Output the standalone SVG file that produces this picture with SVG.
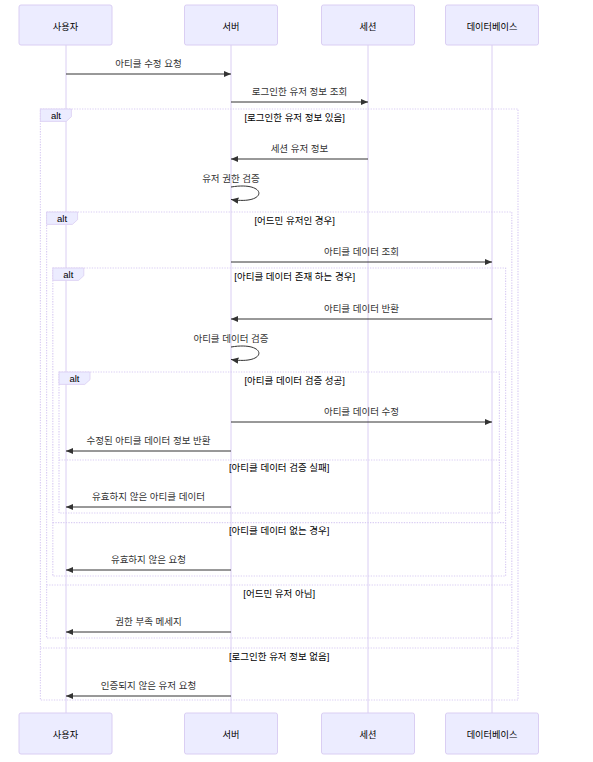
<svg xmlns="http://www.w3.org/2000/svg" width="593" height="762" viewBox="0 0 593 762">
<style>
text{font-family:"Liberation Sans","Noto Sans CJK KR",sans-serif;font-size:9.5px}
.actor{fill:#ECECFF;stroke:#DACEF3;stroke-width:1}
.atext{fill:#000;text-anchor:middle;font-size:9.2px}
.life{stroke:#DACEF3;stroke-width:1}
.msg{stroke:#333;stroke-width:1;fill:none}
.mtext{fill:#333;text-anchor:middle}
.loop{stroke:#DACEF3;stroke-width:1.2;stroke-dasharray:1.3,1.3;fill:none}
.lbox{fill:#ECECFF;stroke:#DACEF3;stroke-width:0.8}
.ltext{fill:#000;text-anchor:middle}
</style>
<defs>
<marker id="ah" markerUnits="userSpaceOnUse" markerWidth="8" markerHeight="7" refX="7.4" refY="3.1" orient="auto">
<path d="M0,0 L7.4,3.1 L0,6.2 z" fill="#333"/>
</marker>
</defs>
<g id="lifelines">
<line class="life" x1="66" y1="45" x2="66" y2="713"/>
<line class="life" x1="231" y1="45" x2="231" y2="713"/>
<line class="life" x1="368" y1="45" x2="368" y2="713"/>
<line class="life" x1="492" y1="45" x2="492" y2="713"/>
</g>
<g id="frames">
<rect class="loop" x="40.4" y="109" width="477.6" height="591"/>
<line class="loop" x1="40.4" y1="648" x2="518" y2="648"/>
<polygon class="lbox" points="40.4,109 71.4,109 71.4,116.7 66.2,121.4 40.4,121.4"/>
<text class="ltext" x="55.9" y="119">alt</text>
<text class="ltext" x="294.7" y="120.5">[로그인한 유저 정보 있음]</text>
<text class="ltext" x="279.2" y="659.5">[로그인한 유저 정보 없음]</text>

<rect class="loop" x="46.6" y="212" width="465.2" height="426"/>
<line class="loop" x1="46.6" y1="585" x2="511.8" y2="585"/>
<polygon class="lbox" points="46.6,212 77.6,212 77.6,219.7 72.4,224.4 46.6,224.4"/>
<text class="ltext" x="62.1" y="222">alt</text>
<text class="ltext" x="294.7" y="223.5">[어드민 유저인 경우]</text>
<text class="ltext" x="279.2" y="597">[어드민 유저 아님]</text>

<rect class="loop" x="52.8" y="268" width="452.8" height="308"/>
<line class="loop" x1="52.8" y1="522.7" x2="505.6" y2="522.7"/>
<polygon class="lbox" points="52.8,268 83.8,268 83.8,275.7 78.6,280.4 52.8,280.4"/>
<text class="ltext" x="68.3" y="278">alt</text>
<text class="ltext" x="294.7" y="279.5">[아티클 데이터 존재 하는 경우]</text>
<text class="ltext" x="279.2" y="534">[아티클 데이터 없는 경우]</text>

<rect class="loop" x="59" y="372" width="440.4" height="141"/>
<line class="loop" x1="59" y1="460" x2="499.4" y2="460"/>
<polygon class="lbox" points="59,372 90,372 90,379.7 84.8,384.4 59,384.4"/>
<text class="ltext" x="74.5" y="382">alt</text>
<text class="ltext" x="294.7" y="383.5">[아티클 데이터 검증 성공]</text>
<text class="ltext" x="279.2" y="471">[아티클 데이터 검증 실패]</text>
</g>
<g id="connectors">
<line class="msg" x1="66" y1="74" x2="231" y2="74" marker-end="url(#ah)"/>
<text class="mtext" x="148.5" y="67">아티클 수정 요청</text>
<line class="msg" x1="231" y1="102" x2="368" y2="102" marker-end="url(#ah)"/>
<text class="mtext" x="299.5" y="95">로그인한 유저 정보 조회</text>
<line class="msg" x1="368" y1="159" x2="231" y2="159" marker-end="url(#ah)"/>
<text class="mtext" x="299.5" y="152">세션 유저 정보</text>
<path class="msg" d="M231,187 C268.2,180.8 268.2,205.6 231,199.4" marker-end="url(#ah)"/>
<text class="mtext" x="231" y="181.5">유저 권한 검증</text>
<line class="msg" x1="231" y1="262" x2="492" y2="262" marker-end="url(#ah)"/>
<text class="mtext" x="361.5" y="255">아티클 데이터 조회</text>
<line class="msg" x1="492" y1="319" x2="231" y2="319" marker-end="url(#ah)"/>
<text class="mtext" x="361.5" y="312">아티클 데이터 반환</text>
<path class="msg" d="M231,347 C268.2,340.8 268.2,365.6 231,359.4" marker-end="url(#ah)"/>
<text class="mtext" x="231" y="341.5">아티클 데이터 검증</text>
<line class="msg" x1="231" y1="422" x2="492" y2="422" marker-end="url(#ah)"/>
<text class="mtext" x="361.5" y="415">아티클 데이터 수정</text>
<line class="msg" x1="231" y1="451" x2="66" y2="451" marker-end="url(#ah)"/>
<text class="mtext" x="148.5" y="444">수정된 아티클 데이터 정보 반환</text>
<line class="msg" x1="231" y1="507" x2="66" y2="507" marker-end="url(#ah)"/>
<text class="mtext" x="148.5" y="500">유효하지 않은 아티클 데이터</text>
<line class="msg" x1="231" y1="570" x2="66" y2="570" marker-end="url(#ah)"/>
<text class="mtext" x="148.5" y="563">유효하지 않은 요청</text>
<line class="msg" x1="231" y1="632" x2="66" y2="632" marker-end="url(#ah)"/>
<text class="mtext" x="148.5" y="625">권한 부족 메세지</text>
<line class="msg" x1="231" y1="696" x2="66" y2="696" marker-end="url(#ah)"/>
<text class="mtext" x="148.5" y="689">인증되지 않은 유저 요청</text>
</g>
<g id="actor-user">
<rect class="actor" x="19" y="5" width="93" height="40" rx="2"/>
<text class="atext" x="65.5" y="29.5">사용자</text>
<rect class="actor" x="19" y="713" width="93" height="41" rx="2"/>
<text class="atext" x="65.5" y="737.5">사용자</text>
</g>
<g id="actor-server">
<rect class="actor" x="184.5" y="5" width="93" height="40" rx="2"/>
<text class="atext" x="231" y="29.5">서버</text>
<rect class="actor" x="184.5" y="713" width="93" height="41" rx="2"/>
<text class="atext" x="231" y="737.5">서버</text>
</g>
<g id="actor-session">
<rect class="actor" x="321.5" y="5" width="93" height="40" rx="2"/>
<text class="atext" x="368" y="29.5">세션</text>
<rect class="actor" x="321.5" y="713" width="93" height="41" rx="2"/>
<text class="atext" x="368" y="737.5">세션</text>
</g>
<g id="actor-db">
<rect class="actor" x="445.5" y="5" width="93" height="40" rx="2"/>
<text class="atext" x="492" y="29.5">데이터베이스</text>
<rect class="actor" x="445.5" y="713" width="93" height="41" rx="2"/>
<text class="atext" x="492" y="737.5">데이터베이스</text>
</g>
</svg>
